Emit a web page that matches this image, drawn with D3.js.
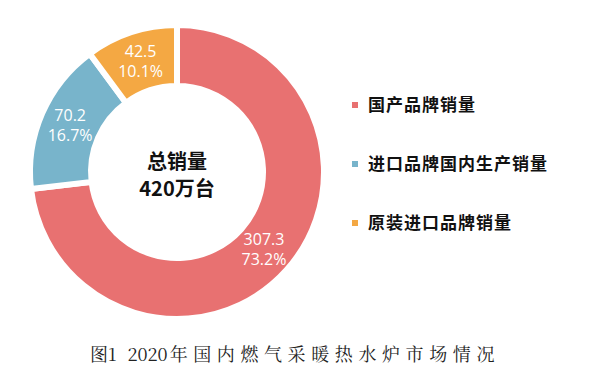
<!DOCTYPE html>
<html>
<head>
<meta charset="utf-8">
<script src="https://cdn.jsdelivr.net/npm/d3@7"></script>
<style>
  body { margin: 0; background: #fff; }
  #chart { width: 600px; height: 371px; }
</style>
</head>
<body>
<div id="chart"></div>
<script>
// --- Data ---
const categories = ['国产品牌销量', '进口品牌国内生产销量', '原装进口品牌销量'];
const values = [307.3, 70.2, 42.5];
const shares = ['73.2%', '16.7%', '10.1%'];
const colors = ['#E87171', '#78B4CB', '#F4A843'];
const centerLines = ['总销量', '420万台'];
const titleParts = ['图1', '2020', '年国内燃气采暖热水炉市场情况'];

const width = 600, height = 371;
const cx = 177, cy = 172;
const outerR = 147, innerR = 86;

const svg = d3.select('#chart')
  .append('svg')
  .attr('width', width)
  .attr('height', height);

const pie = d3.pie().sort(null).value(d => d)(values);
const arc = d3.arc().innerRadius(innerR).outerRadius(outerR);
const labelArc = d3.arc().innerRadius(innerR + 27).outerRadius(outerR - 27);

const g = svg.append('g').attr('transform', `translate(${cx},${cy})`);

// Slices
g.selectAll('.slice')
  .data(pie)
  .join('path')
  .attr('class', 'slice')
  .attr('d', arc)
  .attr('fill', (d, i) => colors[i])
  .attr('stroke', '#fff')
  .attr('stroke-width', 6)
  .attr('stroke-linejoin', 'miter');

// Slice labels: value line and share line
const labelFont = '"Open Sans", sans-serif';
g.selectAll('.slice-value')
  .data(pie)
  .join('text')
  .attr('class', 'slice-value')
  .attr('x', d => labelArc.centroid(d)[0])
  .attr('y', d => labelArc.centroid(d)[1] - 10)
  .attr('dy', '0.35em')
  .attr('text-anchor', 'middle')
  .attr('fill', '#fff')
  .attr('font-family', labelFont)
  .attr('font-size', 16)
  .text(d => d.data.toFixed(1));
g.selectAll('.slice-share')
  .data(pie)
  .join('text')
  .attr('class', 'slice-share')
  .attr('x', d => labelArc.centroid(d)[0])
  .attr('y', d => labelArc.centroid(d)[1] + 10)
  .attr('dy', '0.35em')
  .attr('text-anchor', 'middle')
  .attr('fill', '#fff')
  .attr('font-family', labelFont)
  .attr('font-size', 16)
  .text((d, i) => shares[i]);

// Centre text
g.selectAll('.center-text')
  .data(centerLines)
  .join('text')
  .attr('class', 'center-text')
  .attr('x', 0)
  .attr('y', (d, i) => -3 + i * 27)
  .attr('text-anchor', 'middle')
  .attr('font-family', '"Noto Sans CJK SC", sans-serif')
  .attr('font-weight', 'bold')
  .attr('font-size', 20)
  .attr('fill', '#111')
  .text(d => d);

// Legend
const legendY = d3.scalePoint().domain(categories).range([105, 223]);
const legend = svg.append('g').attr('class', 'legend');
legend.selectAll('rect')
  .data(categories)
  .join('rect')
  .attr('x', 352)
  .attr('y', d => legendY(d) - 3)
  .attr('width', 6)
  .attr('height', 6)
  .attr('fill', (d, i) => colors[i]);
legend.selectAll('text')
  .data(categories)
  .join('text')
  .attr('x', 368)
  .attr('y', d => legendY(d))
  .attr('dy', '0.35em')
  .attr('font-family', '"Noto Sans CJK SC", sans-serif')
  .attr('font-weight', 'bold')
  .attr('font-size', 17)
  .attr('letter-spacing', 1)
  .attr('fill', '#111')
  .text(d => d);

// Title: CJK part spaced wide, digits tight
const title = svg.append('text')
  .attr('x', 90)
  .attr('y', 355)
  .attr('dy', '0.35em')
  .attr('font-family', '"Noto Serif CJK SC", "Liberation Serif", serif')
  .attr('font-size', 18)
  .attr('fill', '#222');
title.selectAll('tspan')
  .data(titleParts)
  .join('tspan')
  .attr('dx', (d, i) => i === 1 ? 11 : i === 2 ? 2 : 0)
  .attr('letter-spacing', (d, i) => i === 2 ? 5.6 : 0)
  .text(d => d);
</script>
</body>
</html>
